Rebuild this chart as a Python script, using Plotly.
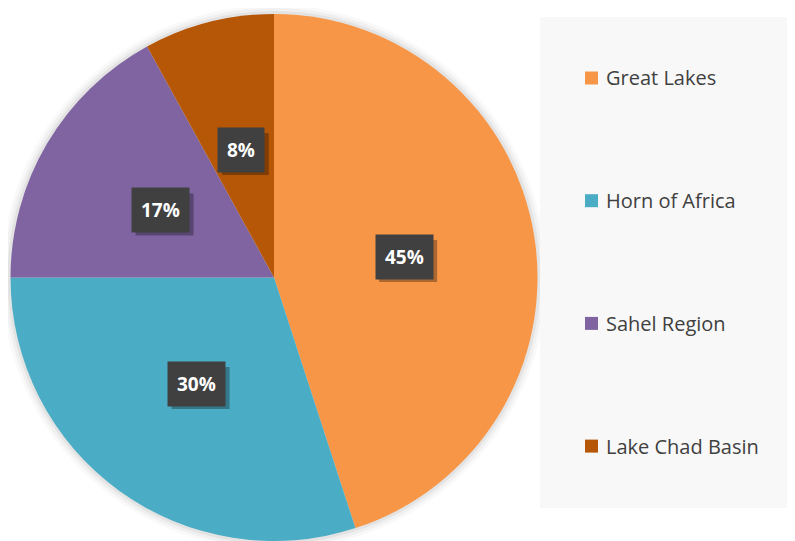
import numpy as np
import plotly.graph_objects as go

regions = ["Great Lakes", "Horn of Africa", "Sahel Region", "Lake Chad Basin"]
shares = [45, 30, 17, 8]
colors = ["#F79646", "#4BACC6", "#8064A2", "#B65708"]

W, H = 795, 541
OFF = 8  # page body margin
cx, cy, r = 274 - OFF, 277.5 - OFF, 263.5  # pie centre / radius in px (figure coords)

def xp(px):
    return px / W

def yp(py):
    return 1 - py / H

fig = go.Figure()

# soft glow behind the pie
for k, a in [(9, 0.025), (6, 0.035), (3, 0.05)]:
    fig.add_shape(type="circle", xref="paper", yref="paper", layer="below",
                  x0=xp(cx - r - k), x1=xp(cx + r + k),
                  y0=yp(cy + r + k), y1=yp(cy - r - k),
                  fillcolor=f"rgba(0,0,0,{a})", line=dict(width=0))

fig.add_trace(go.Pie(
    labels=regions, values=shares, sort=False, direction="clockwise",
    marker=dict(colors=colors, line=dict(width=0)),
    textinfo="none", hoverinfo="label+percent", showlegend=False,
    domain=dict(x=[xp(cx - r), xp(cx + r)], y=[yp(cy + r), yp(cy - r)]),
))

# data labels at half radius, mid-angle of each slice
tot = sum(shares)
start = 0
for s in shares:
    mid = (start + s / 2) / tot * 2 * np.pi
    start += s
    px = cx + 0.5 * r * np.sin(mid)
    py = cy - 0.5 * r * np.cos(mid)
    pct = round(s / tot * 100)
    bw = 11 * len(str(pct)) + 16 + 20
    bh = 42
    # drop shadow
    fig.add_shape(type="rect", xref="paper", yref="paper", xsizemode="pixel", ysizemode="pixel",
                  xanchor=xp(px), yanchor=yp(py),
                  x0=-bw / 2 + 4, x1=bw / 2 + 4, y0=-bh / 2 - 4, y1=bh / 2 - 4,
                  fillcolor="rgba(0,0,0,0.3)", line=dict(width=0))
    fig.add_annotation(x=xp(px), y=yp(py), xref="paper", yref="paper",
                       xanchor="center", yanchor="middle",
                       text=f"<b>{pct}%</b>", showarrow=False,
                       font=dict(family="Open Sans", size=19, color="white"),
                       bgcolor="#404040", borderpad=9)

# legend panel
fig.add_shape(type="rect", xref="paper", yref="paper", layer="below",
              x0=xp(540 - OFF), x1=1, y0=yp(508 - OFF), y1=yp(17 - OFF),
              fillcolor="#F8F8F8", line=dict(width=0))
for i, (name, c) in enumerate(zip(regions, colors)):
    yc = 78 - OFF + i * 122.7
    x0 = 585 - OFF
    fig.add_shape(type="rect", xref="paper", yref="paper",
                  x0=xp(x0), x1=xp(x0 + 13), y0=yp(yc + 6.5), y1=yp(yc - 6.5),
                  fillcolor=c, line=dict(width=0))
    fig.add_annotation(x=xp(x0 + 19), y=yp(yc), xref="paper", yref="paper",
                       text=name, showarrow=False, xanchor="left", yanchor="middle",
                       font=dict(family="Open Sans", size=20, color="#404040"))

fig.update_layout(width=W, height=H, margin=dict(l=0, r=0, t=0, b=0),
                  paper_bgcolor="white", plot_bgcolor="white")

fig.write_html("out.html")
